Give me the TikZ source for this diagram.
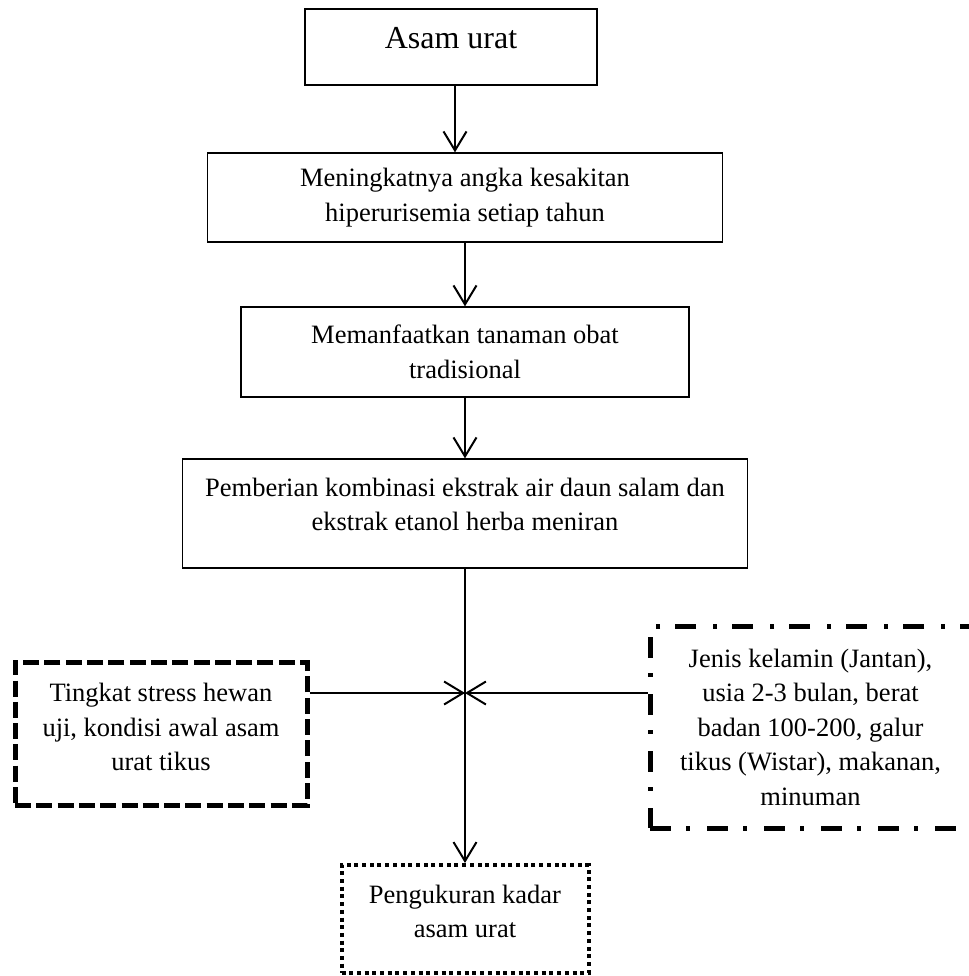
\documentclass[tikz,border=0pt]{standalone}
\usepackage{fontspec}
\setmainfont{Liberation Serif}
\usetikzlibrary{arrows.meta}
\newcommand{\pushup}[1]{\rule[-#1]{0pt}{#1}}

\begin{document}
\begin{tikzpicture}[x=1pt,y=-1pt,->,>={Straight Barb[length=19pt,width=23pt]},
                    line width=2pt,
                    box/.style={draw,line width=1.3pt,align=center,inner sep=0pt,
                                font=\fontsize{26.5}{34.5}\selectfont},
                    dashbox/.style={box,line width=5pt,dash pattern=on 16pt off 5.3pt},
                    dotbox/.style={box,line width=4pt,dash pattern=on 4pt off 3.7pt},
                    dashdotbox/.style={box,line width=5pt,
                                       dash pattern=on 21pt off 15pt on 4pt off 17pt}]

  \useasboundingbox (0,0) rectangle (968,976);

  \node[box,font=\fontsize{32}{38}\selectfont,minimum width=292pt,minimum height=76pt]
        (asam) at (451,47) {Asam urat\pushup{18pt}};
  \node[box,minimum width=515pt,minimum height=89pt] (naik) at (465,197.5)
        {Meningkatnya angka kesakitan\\ hiperurisemia setiap tahun};
  \node[box,minimum width=448pt,minimum height=90pt] (obat) at (465,352)
        {Memanfaatkan tanaman obat\\ tradisional};
  \node[box,minimum width=565pt,minimum height=109pt] (beri) at (465,513.5)
        {Pemberian kombinasi ekstrak air daun salam dan\\ ekstrak etanol herba meniran\pushup{18pt}};

  \node[dashbox,minimum width=292pt,minimum height=143pt] (stres) at (161,733.5)
        {Tingkat stress hewan\\ uji, kondisi awal asam\\ urat tikus\pushup{13pt}};
  \node[dashdotbox,minimum width=321pt,minimum height=202pt] (jenis) at (810.5,727)
        {Jenis kelamin (Jantan),\\ usia 2-3 bulan, berat\\ badan 100-200, galur\\
         tikus (Wistar), makanan,\\ minuman};
  \node[dotbox,minimum width=247pt,minimum height=108pt] (ukur) at (465,919)
        {Pengukuran kadar\\ asam urat\pushup{15pt}};

  \coordinate (temu) at (465,693);

  \draw (asam.south -| 455,0) -- (naik.north -| 455,0);
  \draw (naik) -- (obat);
  \draw (obat) -- (beri);
  \draw (beri) -- (ukur);
  \draw (stres.east |- temu) -- (temu);
  \draw (jenis.west |- temu) -- (temu);

\end{tikzpicture}
\end{document}
